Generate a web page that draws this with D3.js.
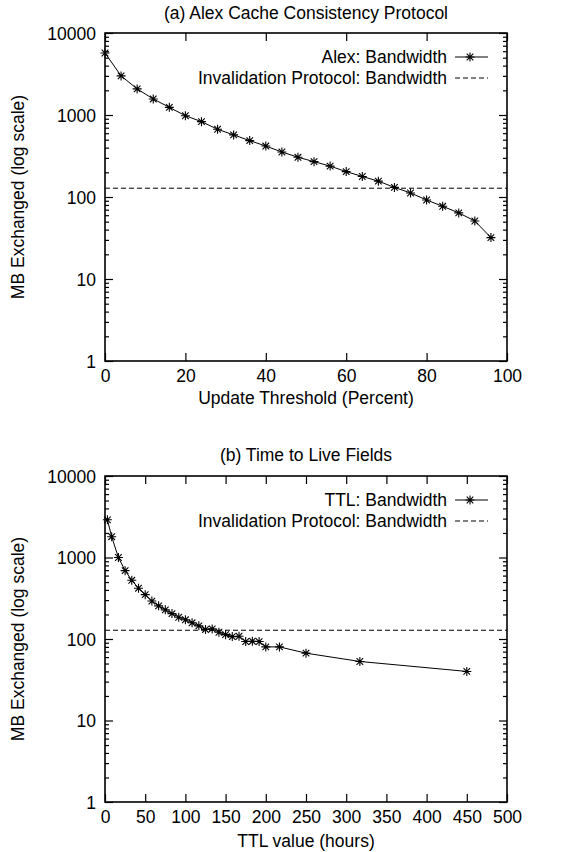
<!DOCTYPE html>
<html>
<head>
<meta charset="utf-8">
<script src="https://cdn.jsdelivr.net/npm/d3@7"></script>
<style>
  html, body { margin: 0; padding: 0; background: #fff; }
  svg text { font-family: "Liberation Sans", Arial, Helvetica, sans-serif; font-size: 17.5px; fill: #000; }
</style>
</head>
<body>
<div id="chart"></div>
<script>
// (a) Alex protocol: update threshold (percent) vs MB exchanged
const alexThreshold = [0, 4, 8, 12, 16, 20, 24, 28, 32, 36, 40, 44, 48, 52, 56, 60, 64, 68, 72, 76, 80, 84, 88, 92, 96];
const alexBandwidth = [5700, 3000, 2080, 1570, 1240, 980, 830, 670, 572, 487, 418, 354, 305, 270, 238, 204, 178, 156, 131, 112, 92, 77, 64, 51, 32];

// (b) TTL fields: TTL value (hours) vs MB exchanged
const ttlHours = [3, 8.3, 16.7, 25, 33.3, 41.7, 50, 58.3, 66.7, 75, 83.3, 91.7, 100, 108.3, 116.7, 125, 133.3, 141.7, 150, 158.3, 166.7, 175, 183.3, 191.7, 200, 217, 250, 317, 450];
const ttlBandwidth = [2900, 1800, 1000, 690, 525, 420, 350, 292, 255, 228, 205, 185, 172, 158, 145, 131, 133, 121, 113, 107, 108, 93, 94, 93, 80, 80, 67, 53, 40];

// invalidation protocol: flat reference level
const invalidationBandwidth = 128;

const yTicks = [1, 10, 100, 1000, 10000];
const alexXTicks = [0, 20, 40, 60, 80, 100];
const ttlXTicks = [0, 50, 100, 150, 200, 250, 300, 350, 400, 450, 500];

const width = 563, height = 852;

const svg = d3.select("#chart")
  .append("svg")
  .attr("width", width)
  .attr("height", height);

const starPath = "M-4.5,0H4.5M0,-4.5V4.5M-3.3,-3.3L3.3,3.3M-3.3,3.3L3.3,-3.3";

function drawPanel(cfg) {
  const { top, bottom, left, right } = cfg;
  const g = svg.append("g");

  const x = d3.scaleLinear().domain(cfg.xDomain).range([left, right]);
  const y = d3.scaleLog().domain([1, 10000]).range([bottom, top]);

  // minor log ticks 2..9 per decade
  const minors = [];
  for (let p = 1; p < 10000; p *= 10) {
    for (let m = 2; m <= 9; m++) minors.push(m * p);
  }

  // left axis (labels), ticks pointing inwards
  g.append("g")
    .attr("transform", `translate(${left},0)`)
    .call(d3.axisLeft(y).tickValues(yTicks).tickSize(-8).tickPadding(9).tickFormat(d3.format("d")))
    .call(a => a.select(".domain").remove())
    .call(a => a.selectAll("text").attr("dy", "0.36em"));
  g.append("g")
    .attr("transform", `translate(${left},0)`)
    .call(d3.axisLeft(y).tickValues(minors).tickSize(-4).tickFormat(""))
    .call(a => a.select(".domain").remove());

  // right mirror
  g.append("g")
    .attr("transform", `translate(${right},0)`)
    .call(d3.axisRight(y).tickValues(yTicks).tickSize(-8).tickFormat(""))
    .call(a => a.select(".domain").remove());
  g.append("g")
    .attr("transform", `translate(${right},0)`)
    .call(d3.axisRight(y).tickValues(minors).tickSize(-4).tickFormat(""))
    .call(a => a.select(".domain").remove());

  // bottom axis with labels
  g.append("g")
    .attr("transform", `translate(0,${bottom})`)
    .call(d3.axisBottom(x).tickValues(cfg.xTicks).tickSize(-8).tickPadding(9).tickFormat(d3.format("d")))
    .call(a => a.select(".domain").remove());
  // top mirror
  g.append("g")
    .attr("transform", `translate(0,${top})`)
    .call(d3.axisTop(x).tickValues(cfg.xTicks).tickSize(-8).tickFormat(""))
    .call(a => a.select(".domain").remove());

  g.selectAll(".tick line").attr("stroke", "#000").attr("stroke-width", 1.2);
  g.selectAll(".tick text").style("font-size", "17.5px").attr("fill", "#000");

  // frame
  g.append("rect")
    .attr("x", left).attr("y", top)
    .attr("width", right - left).attr("height", bottom - top)
    .attr("fill", "none").attr("stroke", "#000").attr("stroke-width", 1.6);

  // invalidation protocol (dashed)
  g.append("line")
    .attr("x1", x(cfg.xDomain[0])).attr("x2", x(cfg.xDomain[1]))
    .attr("y1", y(invalidationBandwidth)).attr("y2", y(invalidationBandwidth))
    .attr("stroke", "#000").attr("stroke-width", 1)
    .attr("stroke-dasharray", "5,3");

  // data line
  const pts = cfg.xs.map((v, i) => [v, cfg.ys[i]]);
  g.append("path")
    .datum(pts)
    .attr("fill", "none")
    .attr("stroke", "#000")
    .attr("stroke-width", 1)
    .attr("d", d3.line().x(d => x(d[0])).y(d => y(d[1])));

  g.selectAll("path.star")
    .data(pts)
    .enter()
    .append("path")
    .attr("class", "star")
    .attr("transform", d => `translate(${x(d[0])},${y(d[1])})`)
    .attr("d", starPath)
    .attr("stroke", "#000")
    .attr("stroke-width", 1.1)
    .attr("fill", "none");

  // title
  g.append("text")
    .attr("x", (left + right) / 2)
    .attr("y", top - cfg.titleGap)
    .attr("text-anchor", "middle")
    .text(cfg.title);

  // axis labels
  g.append("text")
    .attr("x", (left + right) / 2)
    .attr("y", bottom + cfg.xLabelGap)
    .attr("text-anchor", "middle")
    .text(cfg.xLabel);

  g.append("text")
    .attr("transform", `translate(24,${(top + bottom) / 2}) rotate(-90)`)
    .attr("text-anchor", "middle")
    .text("MB Exchanged (log scale)");

  // legend
  const legendRows = [
    { label: cfg.seriesLabel, dashed: false },
    { label: "Invalidation Protocol: Bandwidth", dashed: true }
  ];
  const lg = g.append("g").attr("transform", `translate(0,${top + 24})`);
  const rows = lg.selectAll("g.row")
    .data(legendRows)
    .enter()
    .append("g")
    .attr("class", "row")
    .attr("transform", (_, i) => `translate(0,${i * 21})`);

  rows.append("text")
    .attr("x", 447)
    .attr("y", 0)
    .attr("dy", "0.36em")
    .attr("text-anchor", "end")
    .text(d => d.label);

  rows.append("line")
    .attr("x1", 455).attr("x2", 488)
    .attr("y1", 0).attr("y2", 0)
    .attr("stroke", "#000")
    .attr("stroke-width", 1)
    .attr("stroke-dasharray", d => d.dashed ? "5,3" : null);

  rows.filter(d => !d.dashed)
    .append("path")
    .attr("transform", "translate(470,0)")
    .attr("d", starPath)
    .attr("stroke", "#000")
    .attr("stroke-width", 1.1);
}

drawPanel({
  top: 33, bottom: 361, left: 105, right: 507,
  xDomain: [0, 100], xTicks: alexXTicks,
  xs: alexThreshold, ys: alexBandwidth,
  title: "(a) Alex Cache Consistency Protocol",
  titleGap: 14, xLabelGap: 43,
  xLabel: "Update Threshold (Percent)",
  seriesLabel: "Alex: Bandwidth"
});

drawPanel({
  top: 476, bottom: 802, left: 105, right: 507,
  xDomain: [0, 500], xTicks: ttlXTicks,
  xs: ttlHours, ys: ttlBandwidth,
  title: "(b) Time to Live Fields",
  titleGap: 15, xLabelGap: 45,
  xLabel: "TTL value (hours)",
  seriesLabel: "TTL: Bandwidth"
});
</script>
</body>
</html>
